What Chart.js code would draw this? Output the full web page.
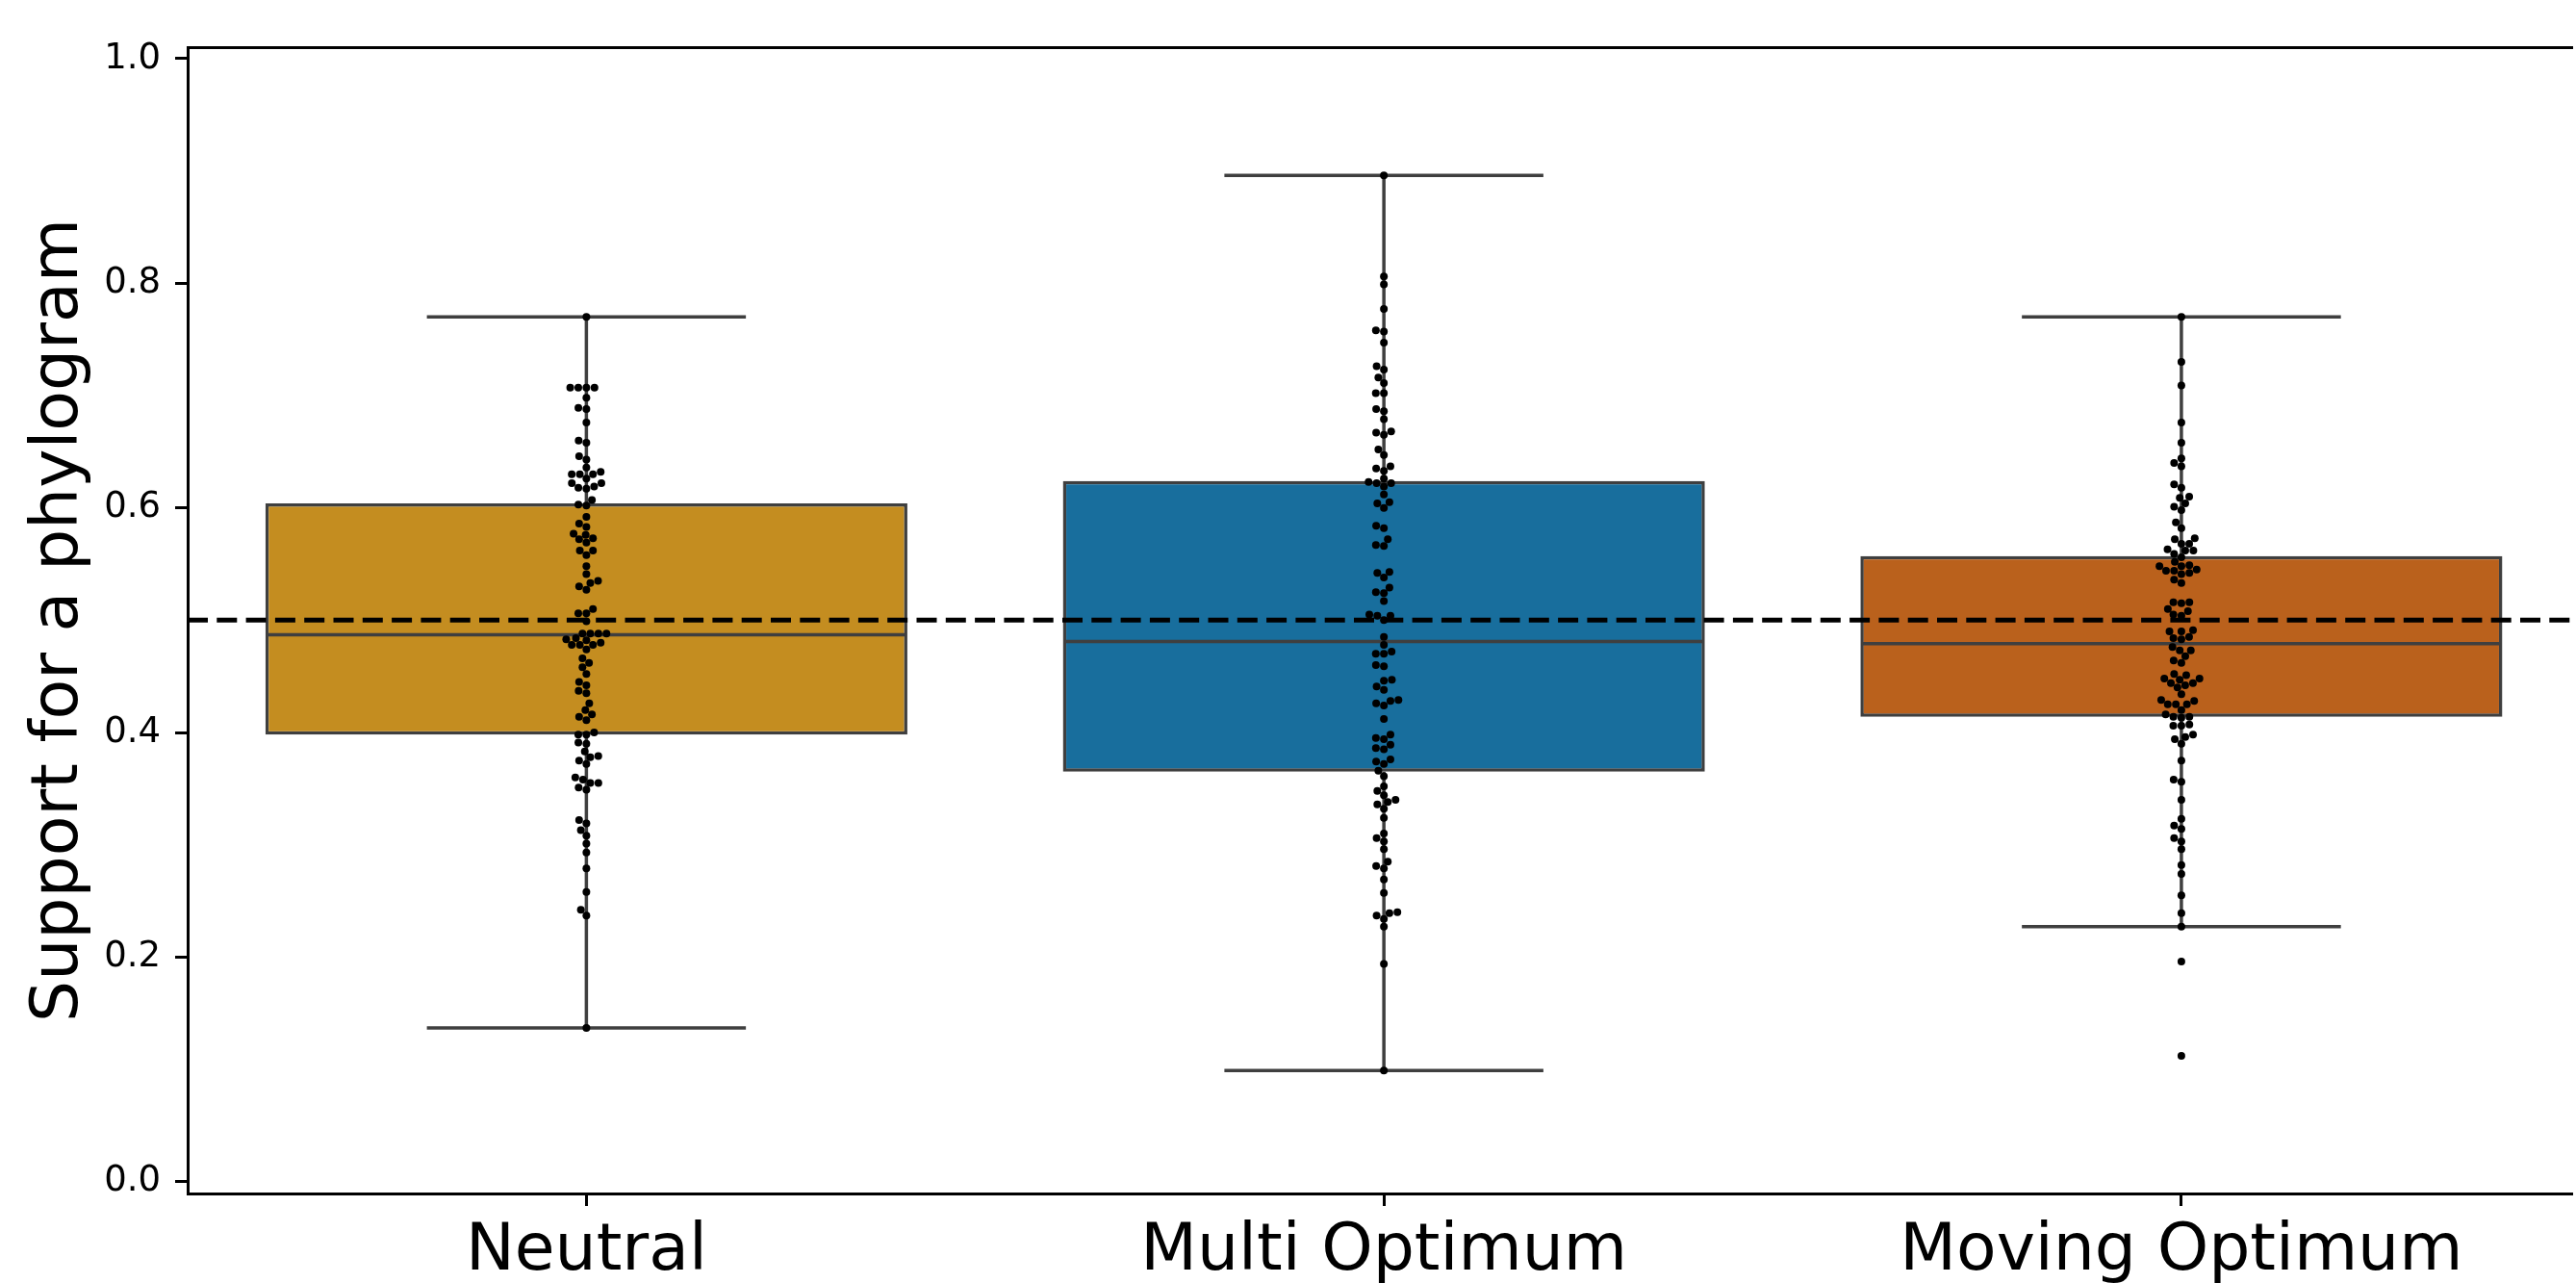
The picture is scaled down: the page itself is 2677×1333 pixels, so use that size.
<!DOCTYPE html>
<html>
<head>
<meta charset="utf-8">
<script src="https://cdn.jsdelivr.net/npm/chart.js@4.4.1/dist/chart.umd.min.js"></script>
<style>
  html, body { margin: 0; padding: 0; background: #ffffff; }
  #wrap { width: 2677px; height: 1333px; }
</style>
</head>
<body>
<div id="wrap"><canvas id="boxChart" width="2677" height="1333"></canvas></div>
<script>
// categories and tick labels
const CATEGORIES = ['Neutral', 'Multi Optimum', 'Moving Optimum'];
const Y_TICKS = [0.0, 0.2, 0.4, 0.6, 0.8, 1.0];

// box statistics
const Q1 = [0.398, 0.365, 0.414];
const MEDIAN = [0.487, 0.481, 0.479];
const Q3 = [0.604, 0.624, 0.557];
const WHISKER_LOW = [0.137, 0.099, 0.227];
const WHISKER_HIGH = [0.770, 0.896, 0.770];
const THRESHOLD = 0.5;

// individual observations (swarm)
const NEUTRAL = [
  0.770, 0.707, 0.707, 0.707, 0.707, 0.698, 0.689, 0.688, 0.676, 0.660, 0.658, 0.646, 0.643, 0.636,
  0.632, 0.630, 0.630, 0.630, 0.626,
  0.622, 0.622, 0.619, 0.618, 0.617,
  0.607, 0.603, 0.602, 0.592,
  0.586, 0.583, 0.577, 0.576, 0.573, 0.572, 0.569, 0.562, 0.562, 0.558,
  0.548, 0.541, 0.535, 0.533, 0.530, 0.527, 0.510, 0.506, 0.506, 0.499,
  0.488, 0.488, 0.488, 0.488, 0.484, 0.483, 0.482, 0.480, 0.478, 0.478, 0.478, 0.474,
  0.466, 0.462, 0.458, 0.452, 0.445, 0.442, 0.437, 0.435, 0.426,
  0.420, 0.416, 0.414, 0.411, 0.400, 0.398, 0.398, 0.391, 0.390, 0.383,
  0.379, 0.378, 0.375, 0.372, 0.360, 0.358, 0.355, 0.355, 0.351, 0.349,
  0.322, 0.319, 0.313, 0.308, 0.301, 0.293, 0.279, 0.258, 0.242, 0.237, 0.137
];
const MULTI_OPTIMUM = [
  0.896, 0.806, 0.799, 0.777, 0.758, 0.757, 0.747, 0.726, 0.723, 0.716, 0.711,
  0.702, 0.702, 0.688, 0.686, 0.679, 0.668, 0.667, 0.665, 0.652, 0.647,
  0.637, 0.635, 0.633, 0.626, 0.623, 0.622, 0.622, 0.619, 0.612, 0.605, 0.604, 0.600,
  0.584, 0.582, 0.572, 0.567, 0.566,
  0.543, 0.542, 0.538, 0.529, 0.525, 0.524, 0.517,
  0.505, 0.504, 0.504, 0.500, 0.485, 0.478, 0.472, 0.470, 0.470,
  0.460, 0.459, 0.447, 0.446, 0.441, 0.438, 0.429, 0.428, 0.426, 0.424,
  0.412, 0.398, 0.395, 0.394, 0.389, 0.386, 0.385, 0.376, 0.374, 0.372,
  0.366, 0.361, 0.352, 0.348, 0.344, 0.340, 0.338, 0.336, 0.332, 0.324,
  0.310, 0.306, 0.303, 0.296, 0.285, 0.281, 0.279, 0.269, 0.257,
  0.240, 0.239, 0.237, 0.234, 0.227, 0.194, 0.099
];
const MOVING_OPTIMUM = [
  0.770, 0.730, 0.709, 0.676, 0.658, 0.644, 0.640, 0.637, 0.621, 0.618,
  0.610, 0.609, 0.604, 0.601, 0.598, 0.587, 0.582, 0.573, 0.572, 0.568,
  0.568, 0.563, 0.562, 0.562, 0.559, 0.556,
  0.552, 0.549, 0.548, 0.548, 0.545, 0.544, 0.544, 0.542, 0.541, 0.536, 0.533,
  0.516, 0.516, 0.515,
  0.510, 0.508, 0.505, 0.504,
  0.491, 0.490, 0.490, 0.485, 0.484, 0.483,
  0.476, 0.473, 0.473, 0.468, 0.464, 0.462,
  0.452, 0.451, 0.448, 0.448, 0.447, 0.444, 0.444, 0.442, 0.440,
  0.434, 0.429, 0.428, 0.425, 0.425, 0.425, 0.420,
  0.416, 0.414, 0.414, 0.413,
  0.407, 0.406, 0.406,
  0.398, 0.396, 0.394, 0.390,
  0.375, 0.358, 0.356, 0.340, 0.323, 0.317, 0.314, 0.306, 0.303, 0.296,
  0.282, 0.274, 0.255, 0.239, 0.227, 0.196, 0.112
];
const SERIES = [NEUTRAL, MULTI_OPTIMUM, MOVING_OPTIMUM];

// styling
const BOX_COLORS = ['#c48d20', '#186e9d', '#ba611c'];
const EDGE = '#3f3f3f';
const FONT = 'DejaVu Sans';
const BOX_WIDTH = 0.8;
const CAP_WIDTH = 0.4;
const LINE_W = 3.5;
const X_MIN = -0.5, X_MAX = 2.49;
const Y_MIN = -0.0105, Y_MAX = 1.0102;

// segments for whiskers, caps and medians (null breaks the line)
const whiskerPts = [];
const medianPts = [];
CATEGORIES.forEach((c, i) => {
  whiskerPts.push({x: i, y: Q3[i]}, {x: i, y: WHISKER_HIGH[i]}, {x: i, y: null});
  whiskerPts.push({x: i, y: Q1[i]}, {x: i, y: WHISKER_LOW[i]}, {x: i, y: null});
  whiskerPts.push({x: i - CAP_WIDTH / 2, y: WHISKER_HIGH[i]}, {x: i + CAP_WIDTH / 2, y: WHISKER_HIGH[i]}, {x: i, y: null});
  whiskerPts.push({x: i - CAP_WIDTH / 2, y: WHISKER_LOW[i]}, {x: i + CAP_WIDTH / 2, y: WHISKER_LOW[i]}, {x: i, y: null});
  medianPts.push({x: i - BOX_WIDTH / 2, y: MEDIAN[i]}, {x: i + BOX_WIDTH / 2, y: MEDIAN[i]}, {x: i, y: null});
});

// beeswarm: shift points sideways (in pixels) so they don't overlap
const swarmPlugin = {
  id: 'swarm',
  afterDatasetsUpdate(chart) {
    chart.data.datasets.forEach((ds, di) => {
      if (!ds.swarm) return;
      const meta = chart.getDatasetMeta(di);
      const d = 2 * ds.pointRadius;
      const pts = meta.data.map(el => ({el, x0: el.x, x: el.x, y: el.y}));
      pts.sort((a, b) => b.y - a.y); // lowest value first
      const placed = [];
      pts.forEach(p => {
        const near = placed.filter(q => Math.abs(q.y - p.y) < d);
        const cands = [p.x0];
        near.forEach(q => {
          const dx = Math.sqrt(Math.max(d * d - (p.y - q.y) ** 2, 0)) * 1.05;
          cands.push(q.x - dx, q.x + dx);
        });
        const ordered = cands.map((x, k) => ({x, k}))
          .sort((a, b) => (Math.abs(a.x - p.x0) - Math.abs(b.x - p.x0)) || (a.k - b.k));
        for (const c of ordered) {
          if (near.every(q => Math.hypot(q.x - c.x, q.y - p.y) >= d - 1e-6)) { p.x = c.x; break; }
        }
        p.el.x = p.x;
        placed.push(p);
      });
    });
  }
};

const datasets = [
  {
    type: 'bar',
    label: 'box',
    data: CATEGORIES.map((c, i) => ({x: i, y: [Q1[i], Q3[i]]})),
    backgroundColor: BOX_COLORS,
    borderColor: EDGE,
    borderWidth: LINE_W,
    borderSkipped: false,
    categoryPercentage: 1.0,
    barPercentage: BOX_WIDTH + 0.005, // border sits inside the bar, widen by half a line
    order: 4
  },
  {
    type: 'line',
    label: 'whiskers',
    data: whiskerPts,
    borderColor: EDGE,
    borderWidth: LINE_W,
    pointRadius: 0,
    spanGaps: false,
    fill: false,
    order: 3
  },
  {
    type: 'line',
    label: 'medians',
    data: medianPts,
    borderColor: EDGE,
    borderWidth: LINE_W,
    pointRadius: 0,
    spanGaps: false,
    fill: false,
    order: 2
  }
];
SERIES.forEach((vals, i) => {
  datasets.push({
    type: 'scatter',
    label: CATEGORIES[i],
    swarm: true,
    data: vals.map(v => ({x: i, y: v})),
    backgroundColor: '#000000',
    borderWidth: 0,
    pointRadius: 4,
    showLine: false,
    order: 1
  });
});
datasets.push({
  type: 'line',
  label: 'threshold',
  data: [{x: X_MIN, y: THRESHOLD}, {x: 2.5, y: THRESHOLD}],
  borderColor: '#000000',
  borderWidth: 5,
  borderDash: [21, 9.3],
  borderCapStyle: 'butt',
  pointRadius: 0,
  fill: false,
  order: 0
});

new Chart(document.getElementById('boxChart'), {
  type: 'bar',
  data: { datasets },
  plugins: [swarmPlugin],
  options: {
    responsive: false,
    devicePixelRatio: 1,
    animation: false,
    events: [],
    layout: { padding: { top: 49, left: 0, right: 0, bottom: 0 } },
    plugins: {
      legend: { display: false },
      tooltip: { enabled: false }
    },
    scales: {
      x: {
        type: 'linear',
        min: X_MIN,
        max: X_MAX,
        offset: false,
        grid: { offset: false, drawOnChartArea: false, drawTicks: true, tickLength: 13, tickWidth: 3, tickColor: '#000000' },
        border: { display: true, color: '#000000', width: 3 },
        ticks: {
          color: '#000000',
          font: { family: FONT, size: 68 },
          padding: 8,
          maxRotation: 0,
          autoSkip: false,
          callback: v => CATEGORIES[v]
        },
        afterBuildTicks: axis => { axis.ticks = CATEGORIES.map((c, i) => ({value: i})); },
        afterFit: axis => { axis.height = 93; }
      },
      xTop: {
        type: 'linear',
        position: 'top',
        min: X_MIN,
        max: X_MAX,
        grid: { display: false, drawTicks: false },
        ticks: { display: false },
        border: { display: true, color: '#000000', width: 3 },
        afterFit: axis => { axis.height = 0; }
      },
      y: {
        type: 'linear',
        min: Y_MIN,
        max: Y_MAX,
        grid: { drawOnChartArea: false, drawTicks: true, tickLength: 13, tickWidth: 3, tickColor: '#000000' },
        border: { display: true, color: '#000000', width: 3 },
        ticks: {
          color: '#000000',
          font: { family: FONT, size: 37 },
          padding: 15,
          callback: v => v.toFixed(1)
        },
        afterBuildTicks: axis => { axis.ticks = Y_TICKS.map(v => ({value: v})); },
        title: {
          display: true,
          text: 'Support for a phylogram',
          color: '#000000',
          font: { family: FONT, size: 68 },
          padding: { top: 22, bottom: 0 }
        },
        afterFit: axis => { axis.width = 195; }
      }
    }
  }
});
</script>
</body>
</html>
